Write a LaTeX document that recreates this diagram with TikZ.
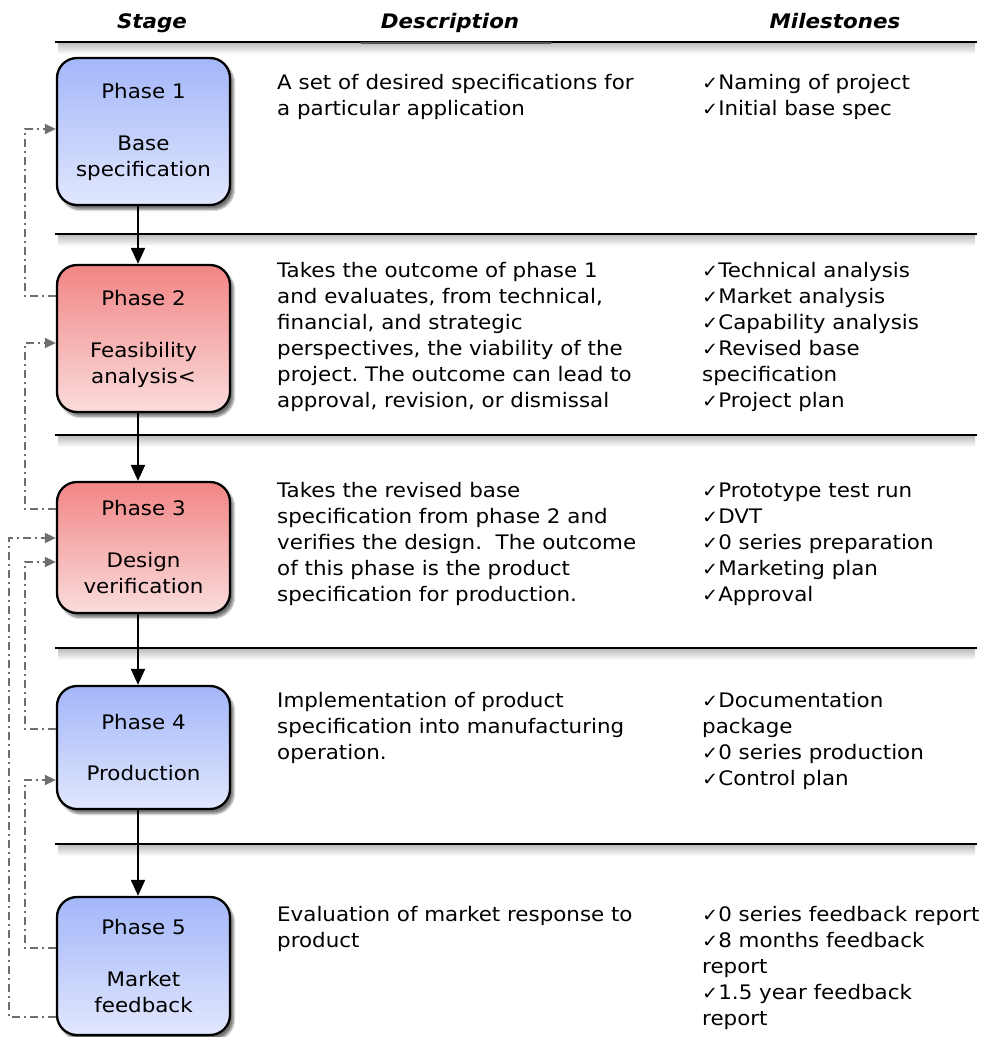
\documentclass[tikz,border=0pt]{standalone}
\usepackage{fontspec}
\setmainfont{DejaVu Sans}[FakeStretch=1.07]
\usetikzlibrary{arrows.meta,shadows.blur}
\frenchspacing

\definecolor{blueTop}{HTML}{A3B6F9}
\definecolor{blueBot}{HTML}{E1E7FD}
\definecolor{redTop}{HTML}{F28585}
\definecolor{redBot}{HTML}{FADCDC}
\definecolor{fbgray}{HTML}{6E6E6E}
\newcommand\ck{{\fontsize{18}{18}\selectfont ✓}}

\tikzset{
 phasebox/.style={draw=black, line width=2.3pt, rounded corners=20pt, minimum width=173pt,
   align=center, font=\fontsize{20}{26}\selectfont, inner sep=0pt,
   blur shadow={shadow xshift=3.5pt, shadow yshift=-4.5pt, shadow blur steps=8, shadow opacity=55}},
 bluebox/.style={phasebox, top color=blueTop, bottom color=blueBot},
 redbox/.style={phasebox, top color=redTop, bottom color=redBot},
 bodytext/.style={anchor=north west, inner sep=0pt, align=left, font=\fontsize{20}{26}\selectfont},
 header/.style={anchor=base, inner sep=0pt, font=\fontsize{20}{24}\selectfont\bfseries\itshape},
 sepline/.style={line width=2pt},
 flow/.style={line width=2pt, -{Triangle[length=16pt,width=14pt]}},
 fb/.style={draw=fbgray, line width=1.6pt, dash pattern=on 8pt off 4pt on 2pt off 4pt,
   -{Triangle[length=11pt,width=10pt]}},
}

\begin{document}
\begin{tikzpicture}[x=1pt,y=-1pt]
\useasboundingbox (0,0) rectangle (982,1037);

% header
\node[header] (hstage) at (152,28.5) {Stage};
\node[header] (hdesc) at (450,28.5) {Description};
\node[header] (hmile) at (835,28.5) {Milestones};

% separator lines with shadows
\foreach \yy in {42,234,435,648,844} {
  \shade[top color=black!28, bottom color=white] (58,\yy) rectangle (975,\yy+12);
  \draw[sepline] (55,\yy) -- (977,\yy);
}
\draw[line width=2.5pt, gray!65!black] (361,43) -- (551,43);

% phase boxes
\node[bluebox, minimum height=147pt] (p1) at (143.5,131.5) {Phase 1\\[26pt]Base\\specification};
\node[redbox, minimum height=147pt] (p2) at (143.5,338.5) {Phase 2\\[26pt]Feasibility\\analysis<};
\node[redbox, minimum height=131pt] (p3) at (143.5,547.5) {Phase 3\\[26pt]Design\\verification};
\node[bluebox, minimum height=123pt] (p4) at (143.5,747.5) {Phase 4\\[25pt]Production};
\node[bluebox, minimum height=138pt] (p5) at (143.5,966) {Phase 5\\[26pt]Market\\feedback};

\coordinate (ax) at (138,0);
\draw[flow] (p1.south -| ax) -- (p2.north -| ax);
\draw[flow] (p2.south -| ax) -- (p3.north -| ax);
\draw[flow] (p3.south -| ax) -- (p4.north -| ax);
\draw[flow] (p4.south -| ax) -- (p5.north -| ax);

% feedback connectors
\draw[fb] ([yshift=42.5pt]p2.west) -- ++(-31,0) |- ([yshift=2.5pt]p1.west);
\draw[fb] ([yshift=38.5pt]p3.west) -- ++(-31,0) |- ([yshift=-4.5pt]p2.west);
\draw[fb] ([yshift=18.5pt]p4.west) -- ++(-31,0) |- ([yshift=-14.5pt]p3.west);
\draw[fb] ([yshift=18pt]p5.west) -- ++(-31,0) |- ([yshift=-32.5pt]p4.west);
\draw[fb] ([yshift=-51pt]p5.west) -- ++(-47,0) |- ([yshift=9.5pt]p3.west);

% descriptions
\node[bodytext] (d1) at (277,74) {A set of desired specifications for\\a particular application};
\node[bodytext] (d2) at (277,262) {Takes the outcome of phase 1\\and evaluates, from technical,\\financial, and strategic\\perspectives, the viability of the\\project. The outcome can lead to\\approval, revision, or dismissal};
\node[bodytext] (d3) at (277,482.5) {Takes the revised base\\specification from phase 2 and\\verifies the design.\ \ The outcome\\of this phase is the product\\specification for production.};
\node[bodytext] (d4) at (277,692.5) {Implementation of product\\specification into manufacturing\\operation.};
\node[bodytext] (d5) at (277,906) {Evaluation of market response to\\product};

% milestones
\node[bodytext] (m1) at (702,74) {\ck Naming of project\\\ck Initial base spec};
\node[bodytext] (m2) at (702,262) {\ck Technical analysis\\\ck Market analysis\\\ck Capability analysis\\\ck Revised base\\specification\\\ck Project plan};
\node[bodytext] (m3) at (702,482.5) {\ck Prototype test run\\\ck DVT\\\ck 0 series preparation\\\ck Marketing plan\\\ck Approval};
\node[bodytext] (m4) at (702,692.5) {\ck Documentation\\package\\\ck 0 series production\\\ck Control plan};
\node[bodytext] (m5) at (702,906) {\ck 0 series feedback report\\\ck 8 months feedback\\report\\\ck 1.5 year feedback\\report};
\end{tikzpicture}
\end{document}
